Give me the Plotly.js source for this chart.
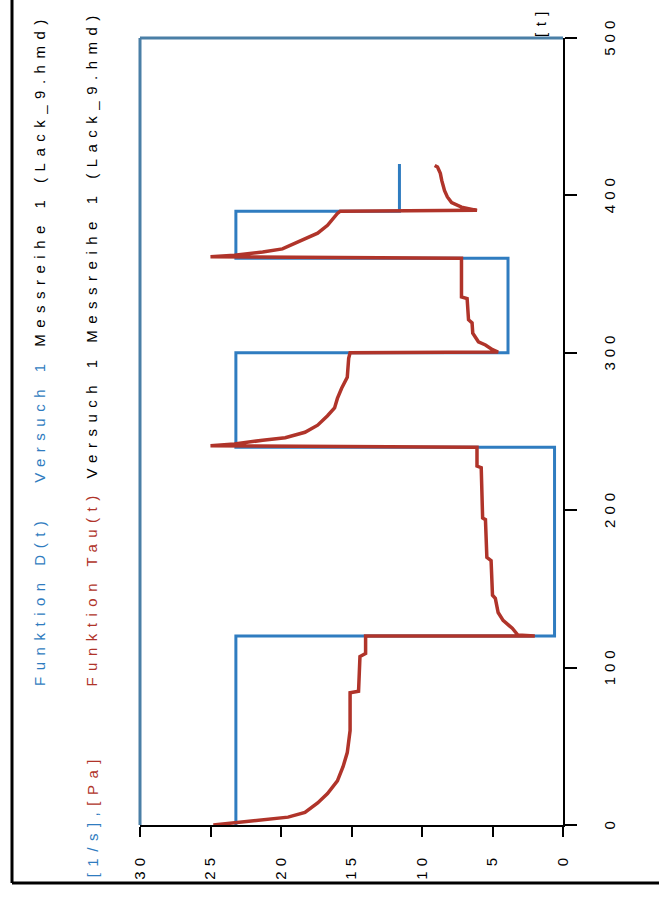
<!DOCTYPE html>
<html>
<head>
<meta charset="utf-8">
<script src="https://cdn.plot.ly/plotly-3.0.1.min.js"></script>
<style>
html, body { margin: 0; padding: 0; background: #ffffff; overflow: hidden; }
#chart { width: 659px; height: 898px; }
.xtick text, .ytick text { letter-spacing: 5px; }
.annotation-text { letter-spacing: 6.5px; }
</style>
</head>
<body>
<div id="chart"></div>
<script>
// Funktion D(t): time [t] and value
const dTime  = [0, 120, 120, 240, 240, 300, 300, 360, 360, 390, 390, 420];
const dValue = [23.2, 23.2, 0.6, 0.6, 23.2, 23.2, 3.9, 3.9, 23.2, 23.2, 11.6, 11.6];

// Funktion Tau(t): time [t] and value
const tauTime = [
  0, 1.5, 3.5, 5, 8, 14, 20, 28, 37, 46, 60, 84, 85, 107, 109, 120,
  120, 120.7, 125, 130, 135, 144, 146, 168, 170, 194, 195, 227, 228, 240,
  241, 242, 244.5, 246, 249.5, 254, 260, 265, 271, 277.5, 284.5, 296.5, 300,
  300.5, 302, 305, 307, 312.5, 319, 321, 334.5, 335.5, 360,
  361, 362, 364, 366, 369.5, 373, 376, 381, 385.5, 388.5, 390,
  390.5, 392.5, 395.5, 399, 403, 409.5, 414, 418, 419
];
const tauValue = [
  24.8, 23.3, 21.4, 19.5, 18.3, 17.4, 16.7, 16.0, 15.6, 15.3, 15.1, 15.1, 14.5, 14.4, 14.0, 14.0,
  2.0, 3.2, 3.6, 4.25, 4.6, 4.8, 5.0, 5.1, 5.4, 5.5, 5.7, 5.8, 6.1, 6.1,
  25.0, 23.3, 21.3, 19.7, 18.3, 17.4, 16.7, 16.2, 16.0, 15.7, 15.3, 15.2, 15.1,
  4.6, 5.0, 5.5, 6.0, 6.4, 6.45, 6.7, 6.8, 7.2, 7.2,
  25.0, 23.3, 21.3, 19.9, 19.0, 18.1, 17.4, 16.7, 16.3, 16.0, 15.8,
  6.1, 7.2, 7.9, 8.2, 8.4, 8.6, 8.7, 8.9, 9.1
];

const valueTicks = [0, 5, 10, 15, 20, 25, 30];
const timeTicks = [0, 100, 200, 300, 400, 500];

const blue = '#2f7cc0';
const red = '#b0342a';
const fontFam = 'Liberation Sans, Arial, sans-serif';

const traces = [
  { x: dValue, y: dTime, type: 'scatter', mode: 'lines', name: 'Funktion D(t)',
    line: { color: blue, width: 3 }, hoverinfo: 'skip' },
  { x: tauValue, y: tauTime, type: 'scatter', mode: 'lines', name: 'Funktion Tau(t)',
    line: { color: red, width: 3.5 }, hoverinfo: 'skip' }
];

const layout = {
  width: 659, height: 898,
  margin: { l: 140, r: 96, t: 38, b: 73 },
  paper_bgcolor: '#ffffff', plot_bgcolor: '#ffffff',
  showlegend: false,
  font: { family: fontFam, color: '#000000', size: 15 },
  xaxis: {
    range: [30, 0], tickvals: valueTicks, ticktext: valueTicks.map(String),
    ticks: 'outside', ticklen: 10, tickwidth: 2, tickcolor: '#000',
    showline: true, linecolor: '#000', linewidth: 2,
    showgrid: false, zeroline: false, tickangle: -90,
    tickfont: { size: 15, color: '#000', family: fontFam },
    ticklabelstandoff: 10
  },
  yaxis: {
    range: [0, 500], tickvals: timeTicks, ticktext: timeTicks.map(String), side: 'right',
    ticks: 'outside', ticklen: 12, tickwidth: 2, tickcolor: '#000',
    showline: true, linecolor: '#000', linewidth: 2,
    showgrid: false, zeroline: false, tickangle: -90,
    tickfont: { size: 15, color: '#000', family: fontFam },
    ticklabelstandoff: 20
  },
  shapes: [
    { type: 'line', xref: 'paper', yref: 'paper', x0: 0, x1: 1, y0: 1, y1: 1,
      line: { color: '#4a7fa6', width: 3 } },
    { type: 'line', xref: 'paper', yref: 'paper', x0: 0, x1: 0, y0: 0, y1: 1,
      line: { color: '#4a7fa6', width: 3 } },
    { type: 'line', xref: 'paper', yref: 'paper', x0: -0.3026, x1: -0.3026, y0: -0.0737, y1: 1.1,
      line: { color: '#000', width: 3 } },
    { type: 'line', xref: 'paper', yref: 'paper', x0: -0.3026, x1: 1.3, y0: -0.0737, y1: -0.0737,
      line: { color: '#000', width: 3 } }
  ],
  annotations: [
    { xref: 'paper', yref: 'paper', x: -0.238, y: 0.174, xanchor: 'center', yanchor: 'bottom',
      textangle: -90, showarrow: false, font: { size: 15, family: fontFam, color: '#000' },
      text: '<span style="color:' + blue + '">Funktion D(t)   Versuch 1</span> Messreihe 1 (Lack_9.hmd)' },
    { xref: 'paper', yref: 'paper', x: -0.1135, y: 0.174, xanchor: 'center', yanchor: 'bottom',
      textangle: -90, showarrow: false, font: { size: 15, family: fontFam, color: '#000' },
      text: '<span style="color:' + red + '">Funktion Tau(t)</span> Versuch 1 Messreihe 1 (Lack_9.hmd)' },
    { xref: 'paper', yref: 'paper', x: -0.1135, y: -0.069, xanchor: 'center', yanchor: 'bottom',
      textangle: -90, showarrow: false, font: { size: 15, family: fontFam, color: '#000' },
      text: '<span style="color:' + blue + '">[1/s],</span><span style="color:' + red + '">[Pa]</span>' },
    { xref: 'paper', yref: 'paper', x: 0.9456, y: 1.0216, xanchor: 'center', yanchor: 'middle',
      textangle: -90, showarrow: false, font: { size: 15, family: fontFam, color: '#000' },
      text: '[t]' }
  ]
};

Plotly.newPlot('chart', traces, layout, { displayModeBar: false, staticPlot: true });
</script>
</body>
</html>
